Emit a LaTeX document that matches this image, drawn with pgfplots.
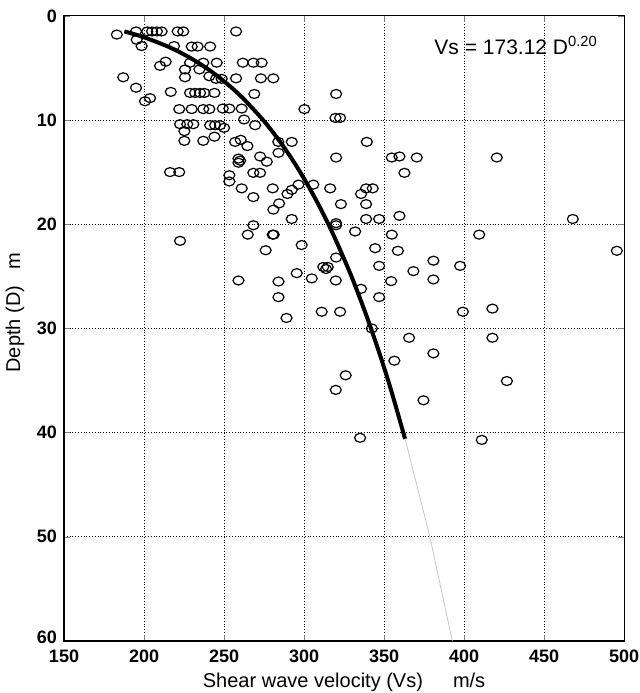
\documentclass[border=0pt]{standalone}
\usepackage{pgfplots}
\pgfplotsset{compat=1.18}
\usepackage{fontspec}
\setmainfont{Liberation Sans}
\begin{document}
\begin{tikzpicture}
\useasboundingbox (-32pt,-26pt) rectangle (287.5pt,320.4pt);
\begin{axis}[
  at={(0,0)}, anchor=south west,
  scale only axis, width=280pt, height=312.5pt,
  xmin=150, xmax=500, ymin=0, ymax=60, y dir=reverse,
  xtick={150,200,...,500}, ytick={0,10,...,60},
  yticklabels={0,10,20,30,40,50,\raisebox{3.5pt}{60}},
  tick align=inside, xtick pos=both, ytick pos=both,
  major tick length=3pt,
  grid=major, major grid style={black, densely dotted, line width=0.4pt},
  axis line style={line width=0.6pt},
  /pgf/number format/assume math mode=true,
  tick label style={font=\fontsize{9}{10}\selectfont\bfseries},
  xticklabel style={yshift=-1pt},
  xlabel={Shear wave velocity (Vs)\hspace{15pt}m/s},
  ylabel={Depth (D)\hspace{8pt}m},
  label style={font=\fontsize{10.5}{12}\selectfont},
  every axis x label/.style={at={(axis description cs:0.5,-0.066)}, anchor=center},
  every axis y label/.style={at={(axis description cs:-0.0875,0.525)}, rotate=90, anchor=center},
]
\addplot[only marks, mark=o, mark size=2.25pt, mark options={xscale=1.22, line width=0.6pt, black}] coordinates {
(183,1.8)(195,1.5)(195.4,2.3)(198.5,2.9)(202,1.5)(205,1.5)(208,1.5)(211,1.5)(221,1.5)(224.5,1.5)(257.5,1.5)
(218.75,2.9)(229.8,2.95)(233.5,2.95)(241.3,2.95)
(210,4.8)(213.5,4.4)(228.75,4.5)(237,4.5)(245.4,4.5)(261.7,4.5)(268.3,4.5)(273.5,4.5)
(225.6,5.15)(234.6,5.15)
(187,5.9)(225.6,5.9)(240.8,5.8)(245,6.05)(248.5,6.05)(257.5,6.0)(273,6.0)(280.8,6.0)
(195,6.9)(216.7,7.3)(228.75,7.4)(231.9,7.4)(235,7.4)(237.7,7.4)(244,7.4)(268.9,7.5)(320,7.5)
(200.6,8.2)(203.75,7.9)
(222,8.95)(229.8,8.95)(237,8.95)(240.8,8.95)(249.2,8.9)(253.3,8.9)(261,8.9)(300.2,8.95)(319.6,9.8)(322.5,9.8)
(222.5,10.4)(227,10.4)(230.8,10.4)(225.2,11.07)(241.3,10.5)(244.4,10.5)(247.5,10.5)(250,10.75)(262.5,9.95)(269.4,10.5)
(225.2,12.0)(237,12.0)(244,11.6)(256.9,12.1)(260.4,11.9)(264.6,12.5)(283.9,12.1)(292.3,12.1)(339.2,12.1)
(320,13.6)(259,13.7)(260,13.9)(259,14.1)(272.5,13.5)(276.7,14.0)(284,13.15)(354.8,13.6)(359.6,13.5)(370.4,13.6)(420.4,13.6)
(216.25,15.0)(222,15.0)(253.3,15.3)(253.3,15.9)(268.3,15.07)(272.5,15.07)(362.7,15.07)
(261,16.56)(268.3,17.4)(280.4,16.56)(289.6,17.1)(292.3,16.7)(296.5,16.2)(305.8,16.2)(316.3,16.56)(338.75,16.56)(342.9,16.56)(335.6,17.1)
(323,18.07)(338.75,18.07)(284.4,18.0)(280.8,18.6)
(292.3,19.5)(338.75,19.5)(346.9,19.5)(359.6,19.2)(320,19.9)(320,20.1)(268.3,20.1)
(331.9,20.7)(264.8,21.0)(280.4,21.0)(281,21.0)(354.8,21.0)(409.4,21.0)(222.5,21.6)(467.9,19.5)
(298.5,22.0)(344.4,22.3)(358.6,22.55)(276,22.5)(495.4,22.55)
(320,23.2)(380.8,23.5)(312,24.1)(314.8,24.1)(313.75,24.3)(346.9,24.0)(397.5,24.0)(368.3,24.5)(295.4,24.7)
(304.8,25.2)(319.8,25.4)(259,25.4)(284,25.5)(354.4,25.46)(380.8,25.3)
(335.6,26.2)(346.9,27.0)(284,27.0)
(311,28.4)(322.5,28.4)(399.2,28.4)(417.7,28.1)(289,29.0)
(342.3,30.0)(365.6,30.9)(417.7,30.9)(380.8,32.4)(356.4,33.1)(326,34.5)(319.8,35.9)(374.6,36.9)(426.7,35.05)(335,40.5)(411,40.7)
};
\addplot[gray!45, line width=0.4pt] coordinates {(363.1,40.6)(378.6,50)(392.6,60)};
\addplot[black, line width=2pt, smooth] coordinates {
(187.7,1.5)(198.9,2)(215.7,3)(228.4,4)(238.9,5)(247.7,6)(255.5,7)(262.4,8)(274.4,10)(284.6,12)(293.5,14)(301.4,16)(308.6,18)(315.2,20)(321.2,22)(329.6,25)(337.1,28)(341.8,30)(348.4,33)(354.5,36)(363.1,40.6)
};
\node[anchor=center, font=\fontsize{10.5}{12}\selectfont] at (axis cs:432.5,2.8) {Vs = 173.12 D\textsuperscript{0.20}};
\end{axis}
\end{tikzpicture}
\end{document}
